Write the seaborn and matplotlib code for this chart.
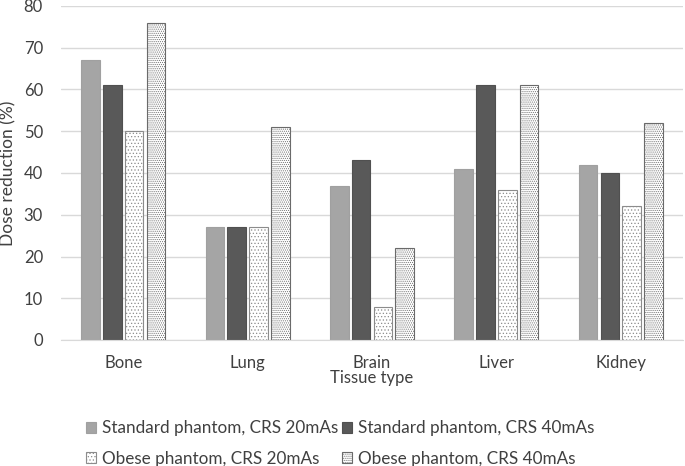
import pandas as pd
import matplotlib
matplotlib.use('Agg')
import matplotlib.pyplot as plt
import seaborn as sns

tissues = ['Bone', 'Lung', 'Brain', 'Liver', 'Kidney']
series = ['Standard phantom, CRS 20mAs', 'Standard phantom, CRS 40mAs',
          'Obese phantom, CRS 20mAs', 'Obese phantom, CRS 40mAs']
std_20 = [67, 27, 37, 41, 42]
std_40 = [61, 27, 43, 61, 40]
obese_20 = [50, 27, 8, 36, 32]
obese_40 = [76, 51, 22, 61, 52]

rows = []
for name, vals in zip(series, [std_20, std_40, obese_20, obese_40]):
    for t, v in zip(tissues, vals):
        rows.append({'Tissue': t, 'Series': name, 'Value': v})
df = pd.DataFrame(rows)

sns.set_style('white')
plt.rcParams['font.family'] = ['Lato', 'DejaVu Sans']
plt.rcParams['hatch.linewidth'] = 0.5

fig = plt.figure(figsize=(6.85, 4.66), dpi=100)
ax = fig.add_axes([61 / 685, 1 - 340 / 466, 622 / 685, 334 / 466])

palette = ['#A5A5A5', '#595959', 'white', 'white']
sns.barplot(data=df, x='Tissue', y='Value', hue='Series', palette=palette,
            width=0.7, gap=0.15, ax=ax, legend=False, saturation=1)

hatches = [None, None, '.....', '........']
edges = ['#A0A0A0', '#505050', '#8C8C8C', '#6A6A6A']
for cont, h, ec in zip(ax.containers, hatches, edges):
    for p in cont:
        p.set_edgecolor(ec)
        p.set_linewidth(0.8)
        if h:
            p.set_hatch(h)

ax.set_ylim(0, 80)
ax.set_yticks(range(0, 81, 10))
ax.yaxis.grid(True, color='#D9D9D9', linewidth=1)
ax.set_axisbelow(True)
for s in ['top', 'right', 'left']:
    ax.spines[s].set_visible(False)
ax.spines['bottom'].set_color('#D9D9D9')
ax.tick_params(axis='both', length=0, labelsize=12, colors='#404040')
ax.tick_params(axis='y', pad=13)
ax.tick_params(axis='x', pad=11)
ax.set_xlabel('Tissue type', fontsize=12, color='#404040', labelpad=-1)
ax.set_ylabel('Dose reduction (%)', fontsize=12.5, color='#404040', labelpad=5)

conts = list(ax.containers)
order = [0, 2, 1, 3]
fig.legend([conts[i] for i in order], [series[i] for i in order], ncol=2,
           loc='lower center', bbox_to_anchor=(0.497, -0.035),
           frameon=False, fontsize=12.3, handlelength=0.6, handleheight=0.6,
           handletextpad=0.35, columnspacing=0.2, labelspacing=0.85,
           labelcolor='#404040')

fig.savefig('out.png', dpi=100)
